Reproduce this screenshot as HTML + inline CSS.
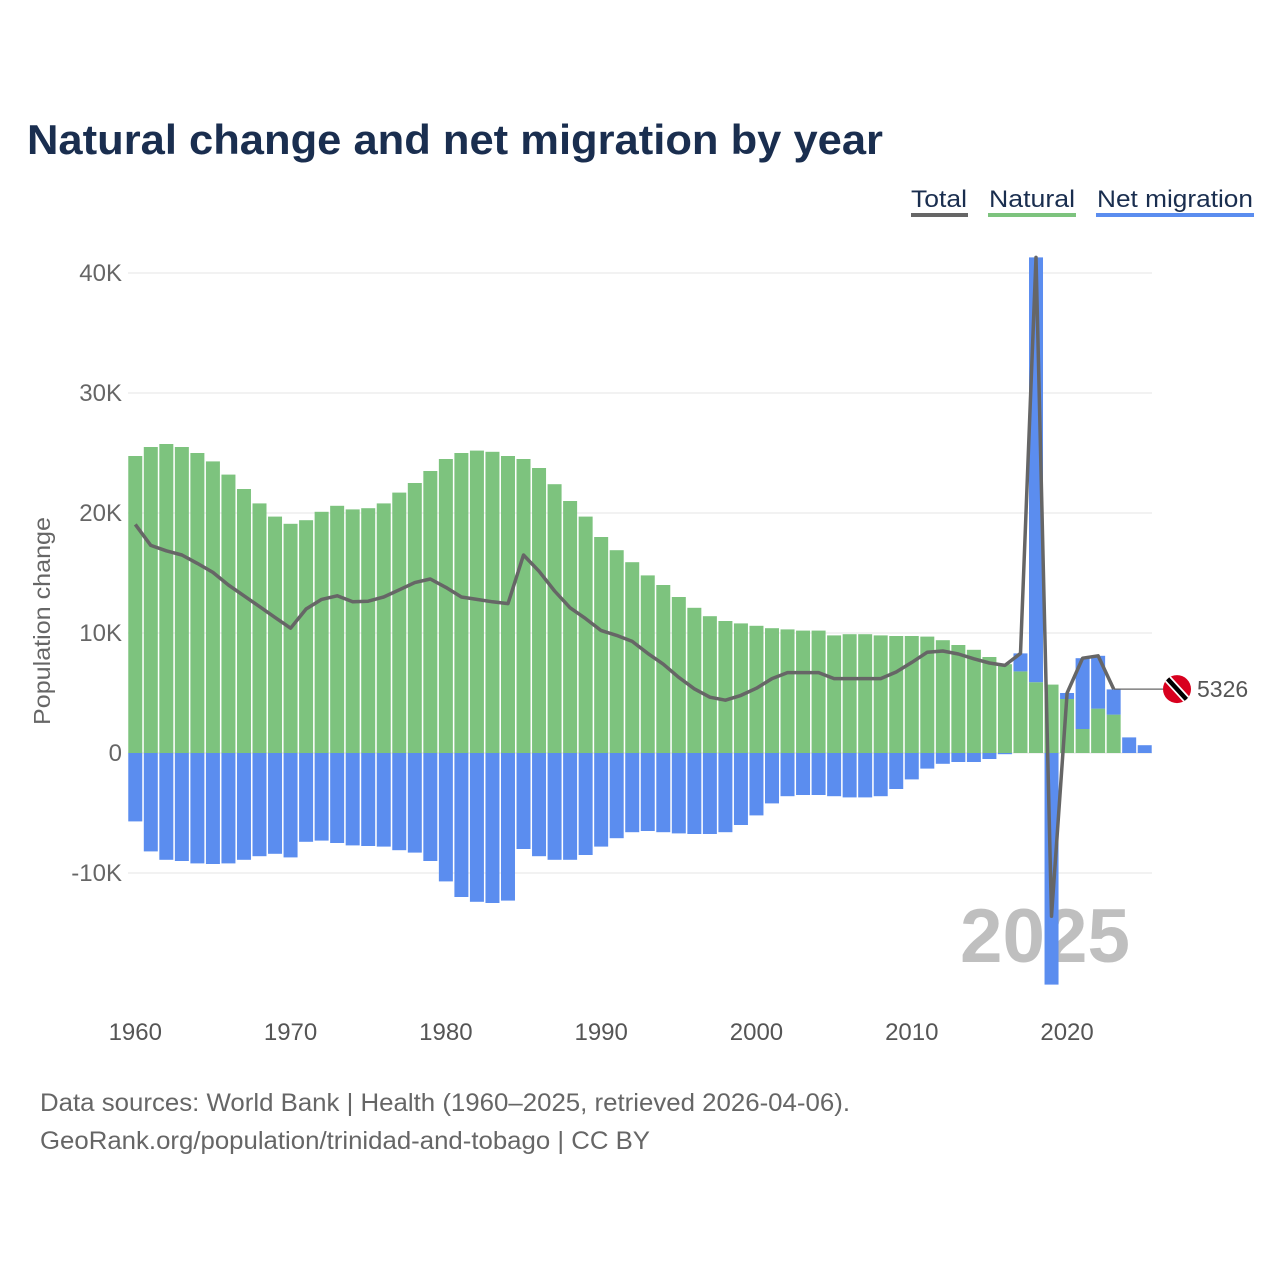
<!DOCTYPE html>
<html><head><meta charset="utf-8"><style>
html,body{margin:0;padding:0;background:#fff;}
svg{display:block;font-family:"Liberation Sans",sans-serif;}
</style></head><body>
<svg id="chart" width="1280" height="1280" viewBox="0 0 1280 1280">
<text x="27" y="154" font-size="42" font-weight="bold" fill="#1a2e4f" textLength="856" lengthAdjust="spacingAndGlyphs">Natural change and net migration by year</text>
<g>
<g><text x="911" y="207" font-size="24" fill="#1a2e4f" textLength="56" lengthAdjust="spacingAndGlyphs">Total</text><rect x="911" y="213" width="57" height="4" fill="#666"/></g>
<g><text x="989" y="207" font-size="24" fill="#1a2e4f" textLength="86" lengthAdjust="spacingAndGlyphs">Natural</text><rect x="988" y="213" width="88" height="4" fill="#7dc37e"/></g>
<g><text x="1097" y="207" font-size="24" fill="#1a2e4f" textLength="156" lengthAdjust="spacingAndGlyphs">Net migration</text><rect x="1096" y="213" width="158" height="4" fill="#5b8def"/></g>
</g>
<text transform="translate(50,621) rotate(-90)" text-anchor="middle" font-size="23" fill="#666" textLength="208" lengthAdjust="spacingAndGlyphs">Population change</text>
<g id="grid"></g>
<text x="1130" y="962" text-anchor="end" font-size="76" font-weight="bold" fill="#b0b0b0" opacity="0.8" textLength="170" lengthAdjust="spacingAndGlyphs">2025</text>
<g id="bars"></g>
<g id="line"></g>
<g id="xticks"></g>
<g id="endlabel"></g>
<text x="40" y="1111" font-size="25" fill="#666" textLength="810" lengthAdjust="spacingAndGlyphs">Data sources: World Bank | Health (1960–2025, retrieved 2026-04-06).</text>
<text x="40" y="1149" font-size="25" fill="#666" textLength="610" lengthAdjust="spacingAndGlyphs">GeoRank.org/population/trinidad-and-tobago | CC BY</text>
</svg>
<script>
const years = [];
for (let y = 1960; y <= 2025; y++) years.push(y);
const natural = [24.75,25.5,25.75,25.5,25.0,24.3,23.2,22.0,20.8,19.7,19.1,19.4,20.1,20.6,20.3,20.4,20.8,21.7,22.5,23.5,24.5,25.0,25.2,25.1,24.75,24.5,23.75,22.4,21.0,19.7,18.0,16.9,15.9,14.8,14.0,13.0,12.1,11.4,11.0,10.8,10.6,10.4,10.3,10.2,10.2,9.8,9.9,9.9,9.8,9.75,9.75,9.7,9.4,9.0,8.6,8.0,7.4,6.8,5.9,5.7,4.5,2.0,3.7,3.2,0,0];
const migration = [-5.7,-8.2,-8.9,-9.0,-9.2,-9.25,-9.2,-8.9,-8.6,-8.4,-8.7,-7.4,-7.3,-7.5,-7.7,-7.75,-7.8,-8.1,-8.3,-9.0,-10.7,-12.0,-12.4,-12.5,-12.3,-8.0,-8.6,-8.9,-8.9,-8.5,-7.8,-7.1,-6.6,-6.5,-6.6,-6.7,-6.75,-6.75,-6.6,-6.0,-5.2,-4.2,-3.6,-3.5,-3.5,-3.6,-3.7,-3.7,-3.6,-3.0,-2.2,-1.3,-0.9,-0.75,-0.75,-0.5,-0.1,1.5,35.4,-19.3,0.5,5.9,4.4,2.1,1.3,0.65];
const totals = [19.05,17.3,16.85,16.5,15.8,15.05,14.0,13.1,12.2,11.3,10.4,12.0,12.8,13.1,12.6,12.65,13.0,13.6,14.2,14.5,13.8,13.0,12.8,12.6,12.45,16.5,15.15,13.5,12.1,11.2,10.2,9.8,9.3,8.3,7.4,6.3,5.35,4.65,4.4,4.8,5.4,6.2,6.7,6.7,6.7,6.2,6.2,6.2,6.2,6.75,7.55,8.4,8.5,8.25,7.85,7.5,7.3,8.3,41.3,-13.6,5.0,7.9,8.1,5.326];
const yTicks = [-10,0,10,20,30,40];
const yTickLabels = ["-10K","0","10K","20K","30K","40K"];
const xTicks = [1960,1970,1980,1990,2000,2010,2020];
const endLabel = "5326";

const NS = "http://www.w3.org/2000/svg";
const X0 = 127.5, STEP = 15.53, ZERO = 753, PXK = 12;
const xc = y => X0 + (y - 1960 + 0.5) * STEP;
const yv = v => ZERO - v * PXK;
function mk(tag, attrs, parent){const e=document.createElementNS(NS,tag);for(const k in attrs)e.setAttribute(k,attrs[k]);parent.appendChild(e);return e;}

const grid = document.getElementById('grid');
yTicks.forEach((t,i)=>{
  const l = mk('line',{x1:128,x2:1152,y1:yv(t),y2:yv(t),stroke:'#e6e6e6','stroke-width':1},grid);
  
  
  const tx = mk('text',{x:122,y:yv(t)+8,'text-anchor':'end','font-size':24,fill:'#666'},grid);
  tx.textContent = yTickLabels[i];
  
  
});

const bars = document.getElementById('bars');
const W = 14;
years.forEach((yr,i)=>{
  const n = natural[i], m = migration[i];
  const x = xc(yr) - W/2;
  if (n > 0) {
    const r = mk('rect',{x:x,y:yv(n),width:W,height:n*PXK,fill:'#7dc37e'},bars);
    
    
  }
  if (m !== 0) {
    const base = m > 0 ? Math.max(n,0) : 0;
    const top = m > 0 ? base + m : 0;
    const r = mk('rect',{x:x,y:yv(top),width:W,height:Math.abs(m)*PXK,fill:'#5b8def'},bars);
    
    
  }
});

const lineG = document.getElementById('line');
const pts = totals.map((v,i)=>xc(years[i]).toFixed(1)+','+yv(v).toFixed(1)).join(' ');
const pl = mk('polyline',{points:pts,fill:'none',stroke:'#666','stroke-width':3.5,'stroke-linejoin':'round'},lineG);



const xg = document.getElementById('xticks');
xTicks.forEach(t=>{
  const tx = mk('text',{x:xc(t),y:1040,'text-anchor':'middle','font-size':24,fill:'#555'},xg);
  tx.textContent = t;
  
  
});

const eg = document.getElementById('endlabel');
const lastI = totals.length - 1;
const ly = yv(totals[lastI]);
const cl = mk('line',{x1:xc(years[lastI]),x2:1163,y1:ly,y2:ly,stroke:'#666','stroke-width':1.2},eg);


const flag = mk('g',{},eg);


mk('clipPath',{id:'fc'},flag).appendChild(document.createElementNS(NS,'circle'));
const cc = flag.querySelector('circle'); cc.setAttribute('cx',1177);cc.setAttribute('cy',ly);cc.setAttribute('r',14);
mk('circle',{cx:1177,cy:ly,r:14,fill:'#d8001e'},flag);
mk('line',{x1:1166,y1:ly-12,x2:1188,y2:ly+12,stroke:'#fff','stroke-width':8,'clip-path':'url(#fc)'},flag);
mk('line',{x1:1166,y1:ly-12,x2:1188,y2:ly+12,stroke:'#000','stroke-width':4.5,'clip-path':'url(#fc)'},flag);
const et = mk('text',{x:1197,y:ly+8,'font-size':23,fill:'#555'},eg);
et.textContent = endLabel;


</script>
</body></html>
